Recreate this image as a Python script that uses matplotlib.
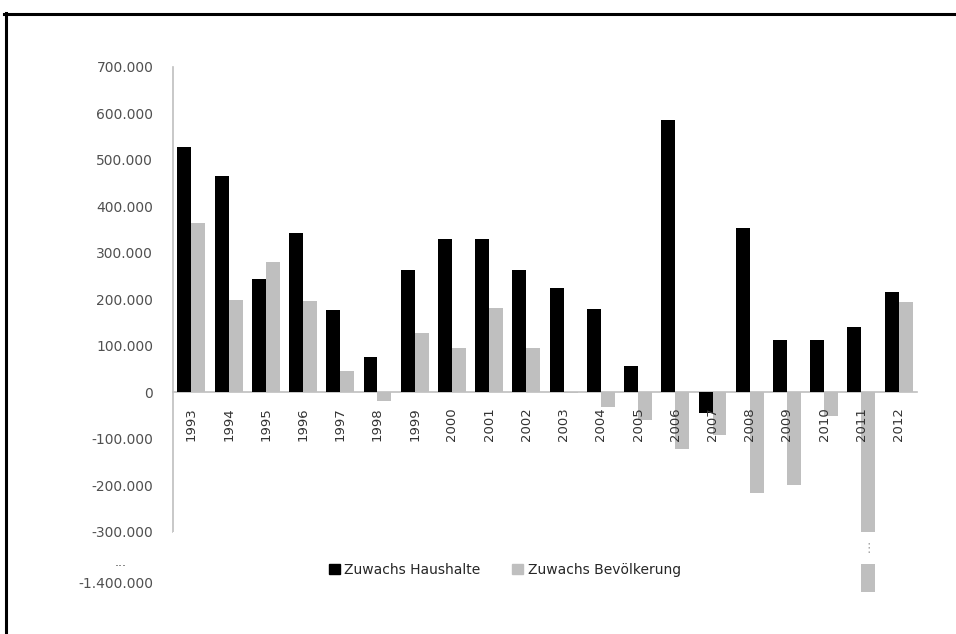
import numpy as np
import matplotlib
matplotlib.use('Agg')
import matplotlib.pyplot as plt
from matplotlib.patches import Patch
from matplotlib.lines import Line2D
from matplotlib.transforms import blended_transform_factory

years = [str(y) for y in range(1993, 2013)]
haushalte = [528000, 465000, 243000, 343000, 177000, 75000, 263000, 329000, 330000, 263000,
             223000, 178000, 57000, 586000, -44000, 354000, 112000, 112000, 140000, 216000]
bevoelkerung = [363000, 198000, 280000, 195000, 45000, -19000, 127000, 95000, 181000, 95000,
                -3000, -31000, -61000, -122000, -93000, -217000, -200000, -52000, -1420000, 194000]
ytick_values = [700000, 600000, 500000, 400000, 300000, 200000, 100000, 0,
                -100000, -200000, -300000, -1400000]
ytick_labels = ['700.000', '600.000', '500.000', '400.000', '300.000', '200.000', '100.000', '0',
                '-100.000', '-200.000', '-300.000', '-1.400.000']

# broken axis: squeeze the range between these two values
BREAK_TOP = -300000
BREAK_BOT = -1360000
SHIFT = -370000 - BREAK_BOT
xp = [-1e8, BREAK_BOT, BREAK_TOP, 1e8]
fp = [-1e8 + SHIFT, BREAK_BOT + SHIFT, BREAK_TOP, 1e8]


def forward(v):
    return np.interp(v, xp, fp)


def inverse(u):
    return np.interp(u, fp, xp)


fig = plt.figure(figsize=(9.56, 6.34), dpi=100)
ax = fig.add_axes([0.1807, 0.0516, 0.7788, 0.8432])
ax.set_yscale('function', functions=(forward, inverse))
ax.set_axisbelow(False)

x = np.arange(len(years))
w = 0.375
ax.bar(x - w / 2, haushalte, w, color='#000000', label='Zuwachs Haushalte', zorder=2)
ax.bar(x + w / 2, bevoelkerung, w, color='#BFBFBF', label='Zuwachs Bevölkerung', zorder=2)

# hide the squeezed part and mark the break
ax.axhspan(BREAK_BOT, BREAK_TOP - 3000, color='white', zorder=3, lw=0)
i11 = years.index('2011')
ax.text(i11 + w / 2, inverse(-337000), '⋮', ha='center', va='center',
        fontsize=9, color='#A0A0A0', zorder=4)

ax.set_xlim(-0.5, len(years) - 0.5)
ax.set_ylim(inverse(-450000), 700000)

ax.set_yticks(ytick_values)
ax.set_yticklabels(ytick_labels)
ax.tick_params(axis='y', length=0, pad=14, labelsize=10, labelcolor='#505050')
ax.set_xticks(x)
ax.set_xticklabels(years)
ax.tick_params(axis='x', length=0, pad=11, labelsize=9.5, labelcolor='#333333',
               labelrotation=90)

trans = blended_transform_factory(ax.transAxes, ax.transData)
ax.text(-0.07, inverse(-367000), '...', transform=trans, ha='center', va='center',
        fontsize=9, color='#404040')

for side in ['top', 'right']:
    ax.spines[side].set_visible(False)
ax.spines['left'].set_bounds(-300000, 700000)
ax.spines['left'].set_color('#BFBFBF')
ax.spines['left'].set_linewidth(1.2)
ax.spines['bottom'].set_position(('data', 0))
ax.spines['bottom'].set_color('#BFBFBF')
ax.spines['bottom'].set_linewidth(1.2)
ax.spines['bottom'].set_zorder(1)

handles = [Patch(color='#000000', label='Zuwachs Haushalte'),
           Patch(color='#BFBFBF', label='Zuwachs Bevölkerung')]
fig.legend(handles=handles, loc='center', bbox_to_anchor=(0.528, 0.101), ncol=2,
           frameon=False, fontsize=10, handlelength=0.8, handleheight=0.8,
           handletextpad=0.3, columnspacing=2.3, labelcolor='#262626')

# frame of the original picture (only top and left edges visible)
fig.add_artist(Line2D([4 / 956, 1], [1 - 13.5 / 634, 1 - 13.5 / 634],
                      transform=fig.transFigure, color='black', lw=2.2))
fig.add_artist(Line2D([5.5 / 956, 5.5 / 956], [0, 1 - 12.5 / 634],
                      transform=fig.transFigure, color='black', lw=2.2))

fig.savefig('out.png', dpi=100)
